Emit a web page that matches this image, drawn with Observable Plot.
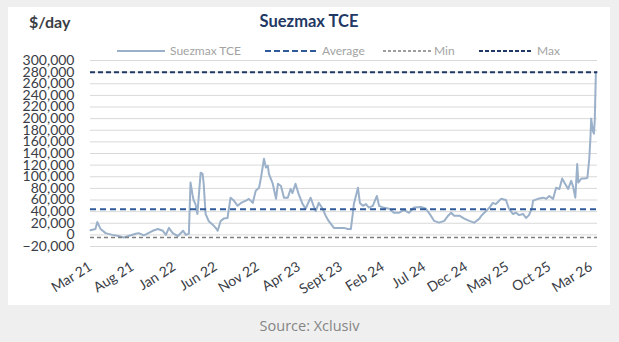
<!DOCTYPE html>
<html>
<head>
<meta charset="utf-8">
<script src="https://cdn.jsdelivr.net/npm/d3@7"></script>
<script src="https://cdn.jsdelivr.net/npm/@observablehq/plot@0.6"></script>
<style>
  html, body { margin: 0; padding: 0; }
  body { width: 619px; height: 342px; background: #efefef; position: relative; overflow: hidden; font-family: Lato, sans-serif; }
  #card { position: absolute; left: 8px; top: 7px; width: 602px; height: 298px; background: #ffffff; }
  #header { position: absolute; left: 0; top: 0; }
  #chart { position: absolute; left: 0; top: 50px; }
  #source { position: absolute; left: 0; width: 619px; top: 316px; text-align: center; font-family: "Open Sans", sans-serif; font-size: 14.5px; color: #858585; }
</style>
</head>
<body>
<div id="card"></div>
<svg id="header" width="619" height="62"></svg>
<div id="chart"></div>
<div id="source">Source: Xclusiv</div>
<script>
// ---- data ----
const dates = [
  "2021-03-01","2021-03-19","2021-03-26","2021-04-07","2021-04-25","2021-05-20","2021-06-11","2021-06-30",
  "2021-07-18","2021-08-13","2021-08-24","2021-09-12","2021-10-14","2021-11-02","2021-11-20","2021-12-01",
  "2021-12-12","2021-12-26","2022-01-14","2022-02-02","2022-02-12","2022-02-23","2022-03-01","2022-03-08",
  "2022-03-12","2022-03-19","2022-03-26","2022-04-07","2022-04-14","2022-04-18","2022-04-25","2022-05-06",
  "2022-05-20","2022-06-01","2022-06-08","2022-06-19","2022-06-30","2022-07-14","2022-07-25","2022-08-06",
  "2022-08-20","2022-09-01","2022-09-19","2022-09-30","2022-10-14","2022-10-25","2022-11-06","2022-11-13",
  "2022-11-24","2022-12-01","2022-12-08","2022-12-12","2022-12-26","2023-01-07","2023-01-14","2023-01-25",
  "2023-02-05","2023-02-19","2023-03-01","2023-03-08","2023-03-19","2023-03-30","2023-04-14","2023-04-25",
  "2023-05-13","2023-05-24","2023-06-01","2023-06-12","2023-06-26","2023-07-07","2023-07-18","2023-08-06",
  "2023-09-12","2023-09-26","2023-10-07","2023-10-14","2023-10-18","2023-11-02","2023-11-09","2023-11-20",
  "2023-12-01","2023-12-12","2023-12-26","2024-01-10","2024-01-18","2024-02-02","2024-02-24","2024-03-12",
  "2024-03-30","2024-04-18","2024-05-06","2024-05-24","2024-06-19","2024-07-07","2024-07-25","2024-08-06",
  "2024-08-24","2024-09-12","2024-09-26","2024-10-07","2024-10-18","2024-11-06","2024-11-24","2024-12-12",
  "2024-12-30","2025-01-18","2025-01-25","2025-02-05","2025-02-24","2025-03-08","2025-03-19","2025-04-07",
  "2025-04-25","2025-05-06","2025-05-20","2025-06-01","2025-06-12","2025-06-26","2025-07-07","2025-07-18",
  "2025-07-29","2025-08-02","2025-08-20","2025-09-08","2025-09-19","2025-09-30","2025-10-14","2025-10-25",
  "2025-11-06","2025-11-16","2025-11-24","2025-12-08","2025-12-19","2025-12-26","2026-01-03","2026-01-10",
  "2026-01-14","2026-01-25","2026-02-05","2026-02-16","2026-02-23","2026-02-27","2026-03-02","2026-03-08",
  "2026-03-12","2026-03-15","2026-03-19","2026-03-23"
];
const tce = [
  8000,10000,22000,10000,3000,0,-2000,-4600,
  -2000,2000,3000,-1000,7000,10000,7000,0,
  12000,3000,-2000,7000,0,2000,90000,70000,
  60000,53000,36000,107000,105000,88000,36000,24000,
  18000,12000,7000,24000,28000,29000,64000,59000,
  50000,55000,59000,62000,55000,76000,81000,98000,
  131000,116000,119000,105000,88000,62000,88000,84000,
  64000,64000,79000,72000,88000,71000,53000,45000,
  64000,50000,41000,55000,45000,33000,24000,12000,
  12000,10000,10000,36000,53000,81000,55000,50000,
  53000,47000,50000,67000,50000,47000,45000,38000,
  38000,43000,38000,47000,48000,45000,33000,24000,
  21000,24000,33000,38000,33000,33000,28000,24000,
  21000,28000,33000,38000,47000,55000,53000,62000,
  60000,45000,36000,38000,34000,36000,29000,34000,
  47000,59000,62000,64000,62000,67000,62000,81000,
  79000,97000,90000,79000,93000,83000,64000,122000,
  90000,97000,97000,98000,131000,165000,200000,179000,
  174000,197000,278000,280000
];
const averageValue = 44000;
const minValue = -4600;
const maxValue = 280000;

const yTicks = [-20000,0,20000,40000,60000,80000,100000,120000,140000,160000,180000,200000,220000,240000,260000,280000,300000];
const xTickDates = ["2021-03-01","2021-08-01","2022-01-01","2022-06-01","2022-11-01","2023-04-01","2023-09-01",
                    "2024-02-01","2024-07-01","2024-12-01","2025-05-01","2025-10-01","2026-03-01"];
const xTickLabels = ["Mar 21","Aug 21","Jan 22","Jun 22","Nov 22","Apr 23","Sept 23",
                     "Feb 24","Jul 24","Dec 24","May 25","Oct 25","Mar 26"];
const xDomain = ["2021-03-01","2026-03-25"];

const seriesNames = ["Suezmax TCE","Average","Min","Max"];
const seriesColors = ["#9bb0c9","#2f5a9a","#7f7f7f","#1f3864"];

// ---- build ----
const parse = d3.utcParse("%Y-%m-%d");
const data = dates.map((d, i) => ({date: parse(d), value: tce[i]}));
const tickDates = xTickDates.map(parse);
const labelMap = new Map(tickDates.map((d, i) => [+d, xTickLabels[i]]));

const chart = Plot.plot({
  width: 619,
  height: 250,
  marginLeft: 90,
  marginRight: 22,
  marginTop: 10,
  marginBottom: 54,
  style: {fontFamily: "Lato, sans-serif", background: "transparent", overflow: "visible"},
  x: {type: "utc", domain: xDomain.map(parse)},
  y: {domain: [-20000, 300000]},
  marks: [
    Plot.ruleY(yTicks, {stroke: "#d9d9d9", strokeWidth: 1}),
    Plot.line(data, {x: "date", y: "value", stroke: seriesColors[0], strokeWidth: 2}),
    Plot.ruleY([averageValue], {stroke: seriesColors[1], strokeWidth: 2, strokeDasharray: "6,4"}),
    Plot.ruleY([minValue], {stroke: seriesColors[2], strokeWidth: 1.6, strokeDasharray: "4,3"}),
    Plot.ruleY([maxValue], {stroke: seriesColors[3], strokeWidth: 2, strokeDasharray: "5,3"}),
    Plot.axisY({ticks: yTicks, tickFormat: d3.format(","), tickSize: 0, tickPadding: 16,
                fontSize: 14, fill: "#3a3d45", label: null}),
    Plot.axisX({ticks: tickDates, tickFormat: d => labelMap.get(+d), tickRotate: -32,
                tickSize: 0, tickPadding: 19, fontSize: 14, fill: "#3a3d45", label: null})
  ]
});
document.getElementById("chart").appendChild(chart);

// ---- header: unit, title, legend ----
const header = d3.select("#header");
header.append("text").attr("x", 29).attr("y", 28)
  .attr("font-family", "Lato, sans-serif").attr("font-weight", "bold").attr("font-size", 16)
  .attr("fill", "#3a3d45").text("$/day");
header.append("text").attr("x", 309).attr("y", 27).attr("text-anchor", "middle")
  .attr("font-family", "Lato, sans-serif").attr("font-weight", "bold").attr("font-size", 16.5)
  .attr("fill", "#1f3864").text("Suezmax TCE");

const legendSamples = [[117,165],[265,318],[383,431],[479,531]];
const legendText = [170,322,434,537];
const legendDash = [null,"6,3","3,2","4,2"];
const legendWidth = [1.8,2,1.6,2];
seriesNames.forEach((name, i) => {
  const l = header.append("line")
    .attr("x1", legendSamples[i][0]).attr("x2", legendSamples[i][1])
    .attr("y1", 51).attr("y2", 51)
    .attr("stroke", seriesColors[i]).attr("stroke-width", legendWidth[i]);
  if (legendDash[i]) l.attr("stroke-dasharray", legendDash[i]);
  header.append("text").attr("x", legendText[i]).attr("y", 55)
    .attr("font-family", "Lato, sans-serif").attr("font-size", 12)
    .attr("fill", "#a3a3a3").text(name);
});
</script>
</body>
</html>
